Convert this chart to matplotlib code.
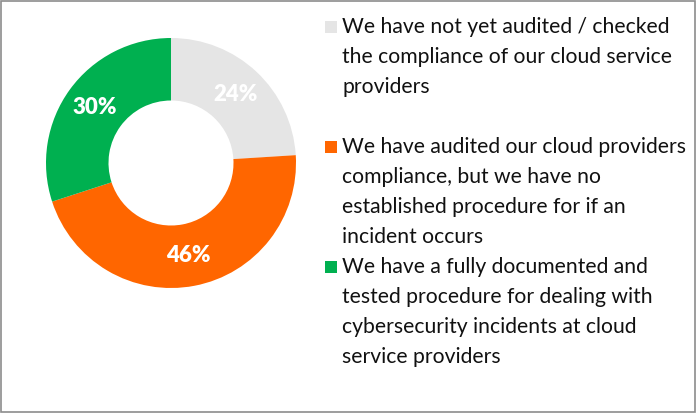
import matplotlib
matplotlib.use("Agg")
import matplotlib.pyplot as plt
from matplotlib.patches import Rectangle
import numpy as np

labels = [
    "We have not yet audited / checked\nthe compliance of our cloud service\nproviders",
    "We have audited our cloud providers\ncompliance, but we have no\nestablished procedure for if an\nincident occurs",
    "We have a fully documented and\ntested procedure for dealing with\ncybersecurity incidents at cloud\nservice providers",
]
shares = [24, 46, 30]
colors = ["#E5E5E5", "#FF6600", "#00B050"]

plt.rcParams['font.family'] = ['Lato', 'DejaVu Sans']

W, H = 696, 413
fig = plt.figure(figsize=(W / 100, H / 100), dpi=100)

# donut
cx, cy, r = 171, 163, 125
ax = fig.add_axes([(cx - r) / W, (H - cy - r) / H, 2 * r / W, 2 * r / H])
wedges, texts = ax.pie(shares, colors=colors, startangle=90, counterclock=False,
                       radius=1, wedgeprops=dict(width=0.5, linewidth=0))
ax.set_xlim(-1, 1)
ax.set_ylim(-1, 1)
ax.set_aspect("equal")
ax.axis("off")

start = 90
for v, w in zip(shares, wedges):
    mid = np.deg2rad(start - v / sum(shares) * 180)
    ax.text(0.75 * np.cos(mid), 0.75 * np.sin(mid), f"{v}%", color="white",
            fontsize=16, fontweight="heavy", ha="center", va="center")
    start -= v / sum(shares) * 360

# legend
first_line_y = [27, 147, 267]
for lab, col, y in zip(labels, colors, first_line_y):
    fig.patches.append(Rectangle((325 / W, (H - y - 6) / H), 12 / W, 12 / H,
                                 transform=fig.transFigure, facecolor=col,
                                 edgecolor="none"))
    fig.text(342 / W, (H - y + 10) / H, lab, fontsize=15.2, color="#111111",
             ha="left", va="top", linespacing=1.62,
             transform=fig.transFigure)

fig.patches.append(Rectangle((1 / W, 1 / H), (W - 2) / W, (H - 2) / H,
                             transform=fig.transFigure, facecolor="none",
                             edgecolor="#8C8C8C", linewidth=1.2))

fig.savefig("out.png", dpi=100)
